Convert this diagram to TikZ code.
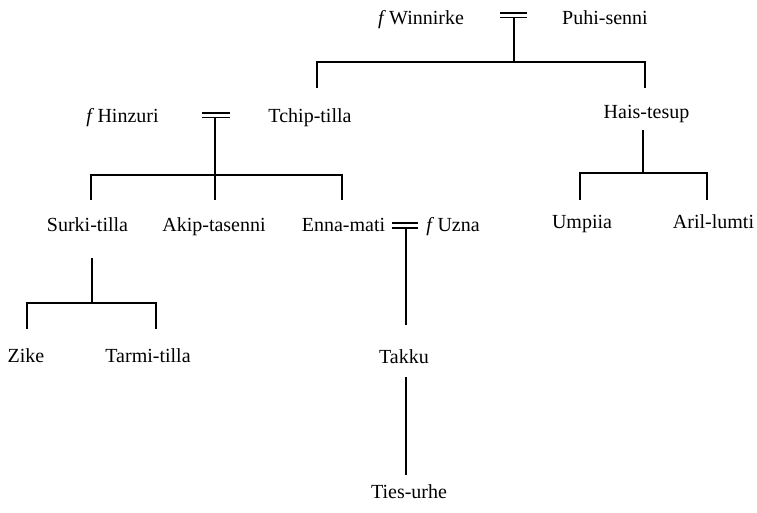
\documentclass[tikz,border=0pt]{standalone}
\usepackage{fontspec}
\setmainfont{Liberation Serif}
\begin{document}
\begin{tikzpicture}[x=1pt,y=-1pt,
  person/.style={anchor=base,inner sep=0pt,font=\fontsize{20}{22}\selectfont},
  line/.style={line width=1.3pt},
  wed/.style={line width=1.1pt}]
\useasboundingbox (0,0) rectangle (757,512);
% people
\node[person] (winnirke) at (421,24) {\textit{f}\,Winnirke};
\node[person] (puhi) at (605,24) {Puhi-senni};
\node[person] (hinzuri) at (122.5,122) {\textit{f}\,Hinzuri};
\node[person] (tchip) at (310,122) {Tchip-tilla};
\node[person] (hais) at (646.5,118) {Hais-tesup};
\node[person] (surki) at (87.5,231) {Surki-tilla};
\node[person] (akip) at (214,231) {Akip-tasenni};
\node[person] (enna) at (343.5,231) {Enna-mati};
\node[person] (uzna) at (453,231) {\textit{f}\,Uzna};
\node[person] (umpiia) at (582,228) {Umpiia};
\node[person] (aril) at (713.5,228) {Aril-lumti};
\node[person] (zike) at (26,362) {Zike};
\node[person] (tarmi) at (148,362) {Tarmi-tilla};
\node[person] (takku) at (404,363) {Takku};
\node[person] (ties) at (409,498) {Ties-urhe};
% marriage 1
\coordinate (w1a) at (500,13); \coordinate (w1b) at (527,13);
\coordinate (w1c) at (500,17.5); \coordinate (w1d) at (527,17.5);
\coordinate (m1) at (514,17.5); \coordinate (j1) at (514,62);
\coordinate (j1l) at (317,62); \coordinate (j1r) at (645,62);
\coordinate (c1l) at (317,88); \coordinate (c1r) at (645,88);
\draw[wed] (w1a) -- (w1b) (w1c) -- (w1d);
\draw[line] (m1) -- (j1);
\draw[line] (c1l) -- (j1l) -- (j1r) -- (c1r);
% marriage 2
\coordinate (w2a) at (202,113); \coordinate (w2b) at (230,113);
\coordinate (w2c) at (202,117.5); \coordinate (w2d) at (230,117.5);
\coordinate (m2) at (215,117.5); \coordinate (j2) at (215,175);
\coordinate (j2l) at (91,175); \coordinate (j2r) at (342,175);
\coordinate (c2l) at (91,200); \coordinate (c2m) at (215,200); \coordinate (c2r) at (342,200);
\draw[wed] (w2a) -- (w2b) (w2c) -- (w2d);
\draw[line] (m2) -- (c2m);
\draw[line] (c2l) -- (j2l) -- (j2r) -- (c2r);
% marriage 3
\coordinate (w3a) at (392,223); \coordinate (w3b) at (418,223);
\coordinate (w3c) at (392,228); \coordinate (w3d) at (418,228);
\coordinate (m3) at (406,228); \coordinate (c3) at (406,325);
\draw[wed] (w3a) -- (w3b) (w3c) -- (w3d);
\draw[line] (m3) -- (c3);
% Takku -> Ties-urhe
\coordinate (t1) at (406,377); \coordinate (t2) at (406,475);
\draw[line] (t1) -- (t2);
% Surki-tilla's children
\coordinate (s0) at (92,258); \coordinate (s1) at (92,303);
\coordinate (s1l) at (27,303); \coordinate (s1r) at (156,303);
\coordinate (c4l) at (27,329); \coordinate (c4r) at (156,329);
\draw[line] (s0) -- (s1);
\draw[line] (c4l) -- (s1l) -- (s1r) -- (c4r);
% Hais-tesup's children
\coordinate (h0) at (643,130); \coordinate (h1) at (643,173);
\coordinate (h1l) at (580,173); \coordinate (h1r) at (707,173);
\coordinate (c5l) at (580,200); \coordinate (c5r) at (707,200);
\draw[line] (h0) -- (h1);
\draw[line] (c5l) -- (h1l) -- (h1r) -- (c5r);
\end{tikzpicture}
\end{document}
